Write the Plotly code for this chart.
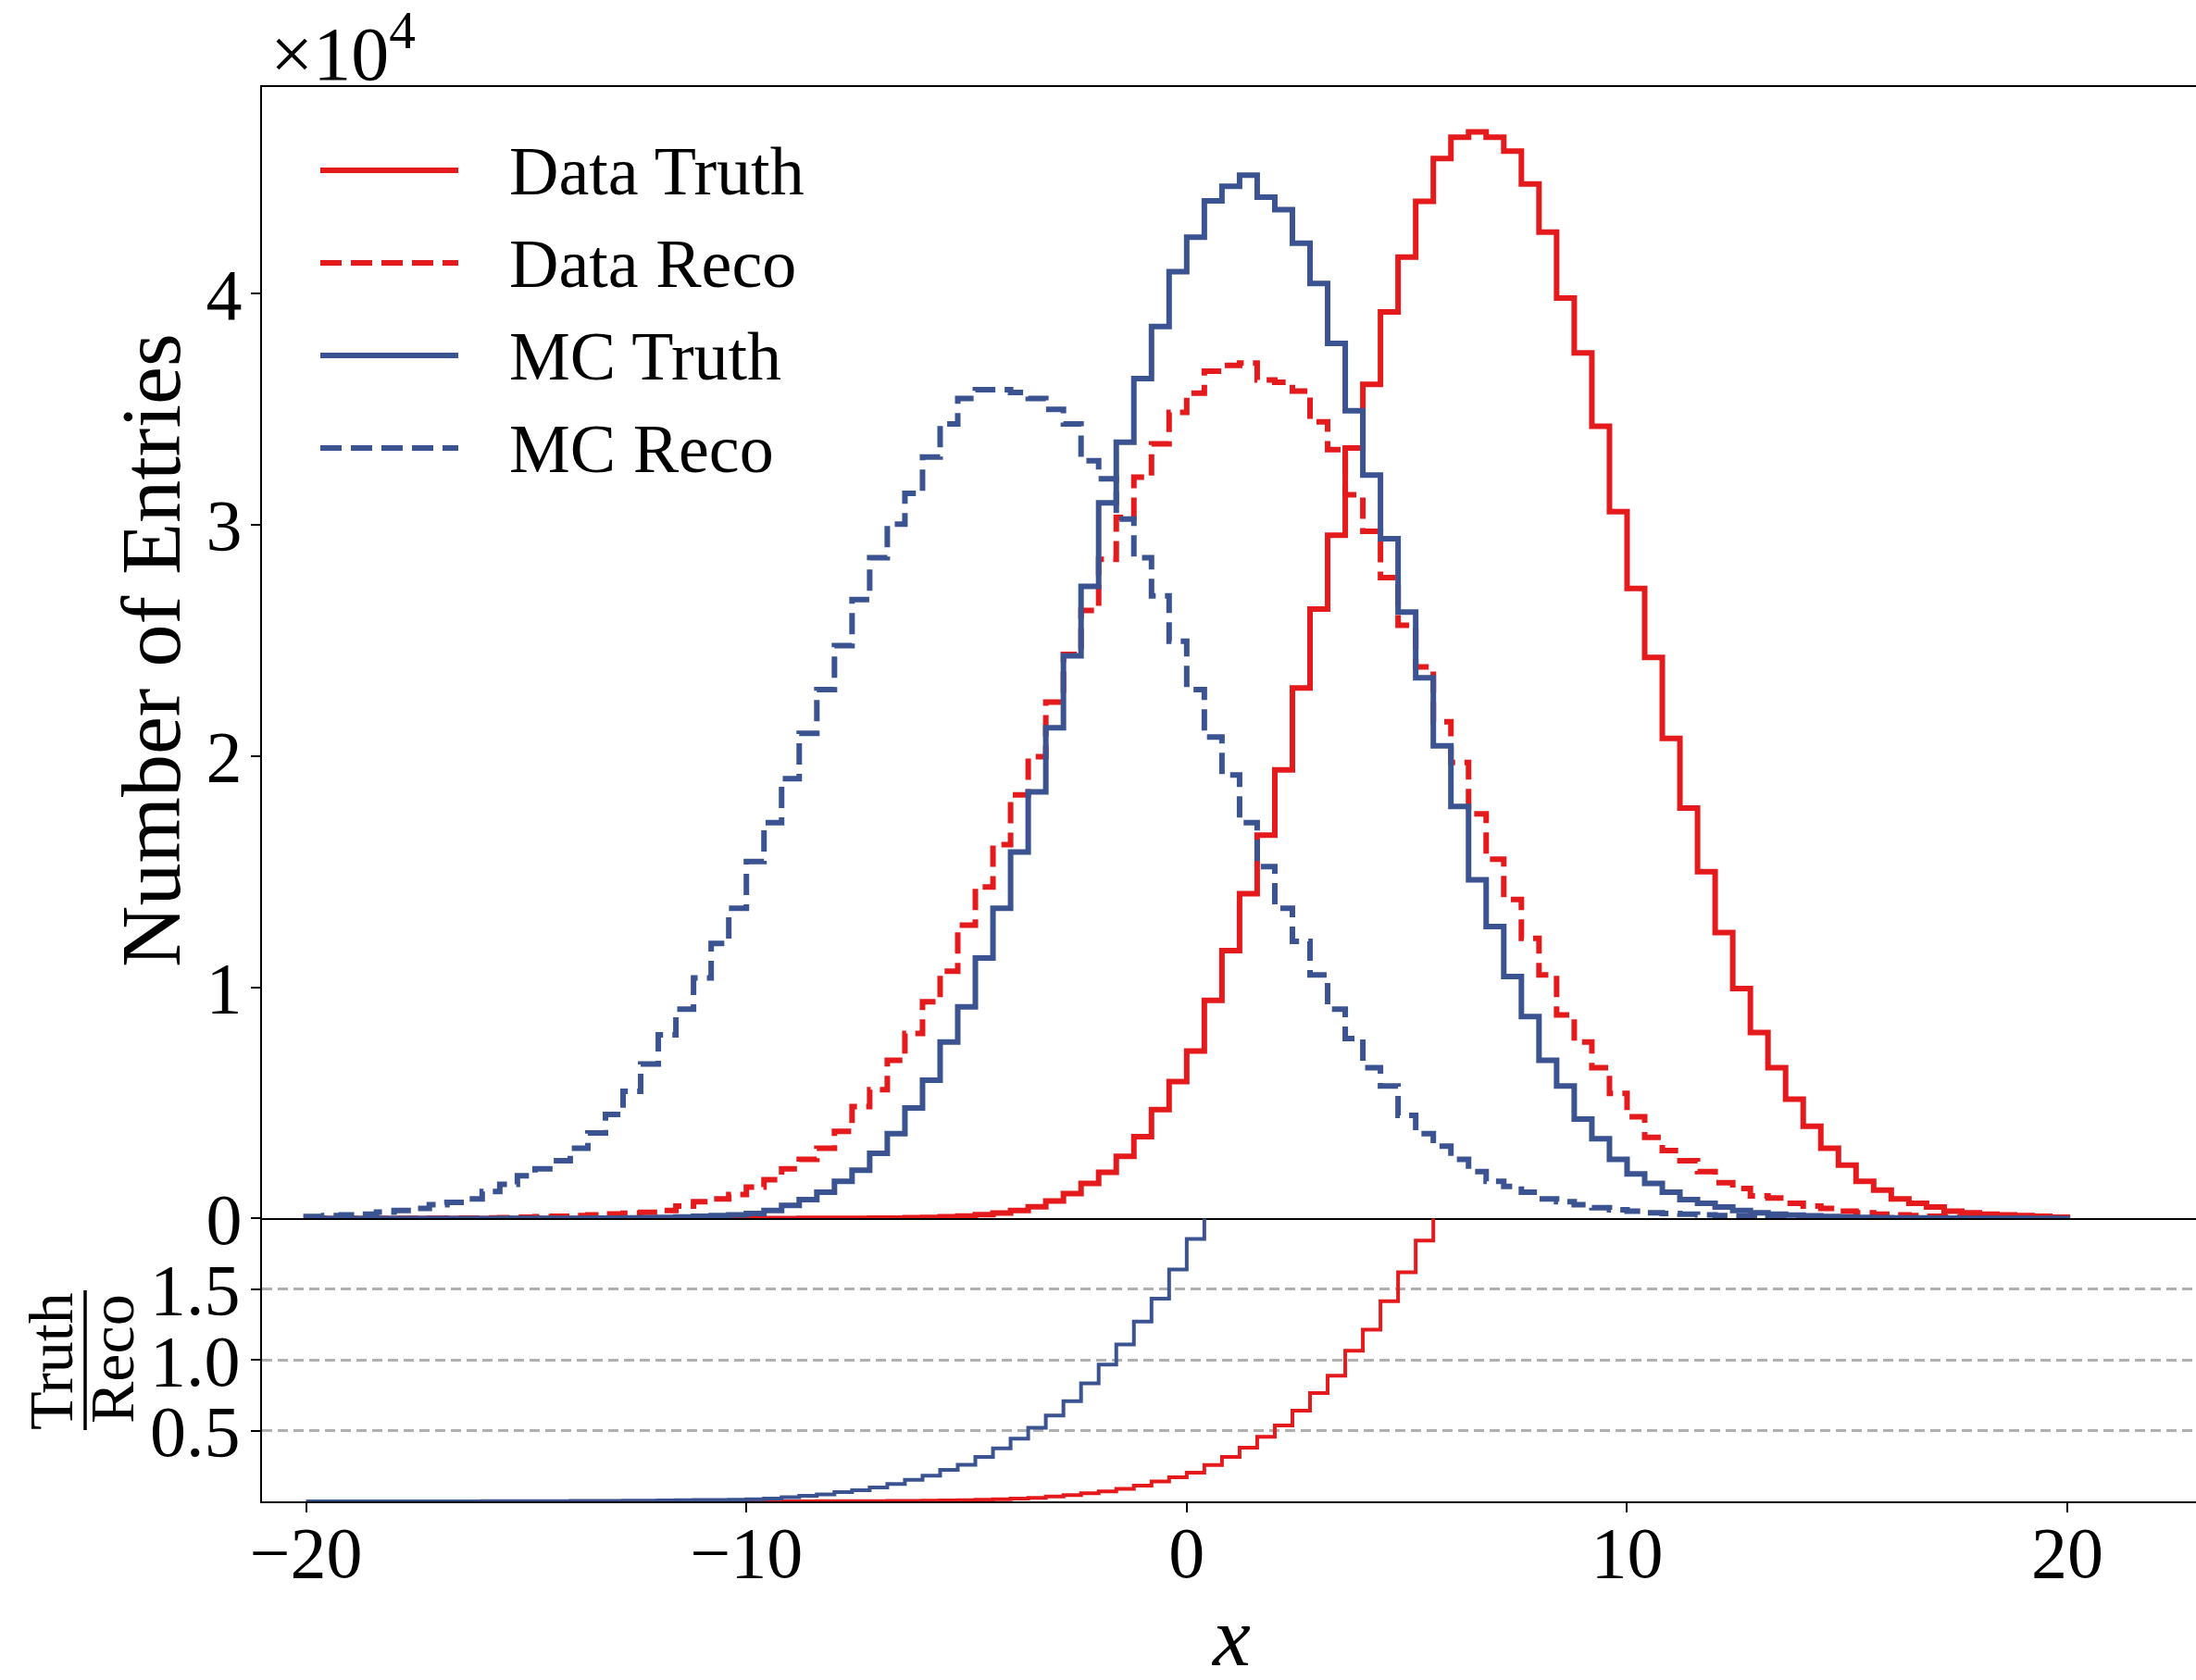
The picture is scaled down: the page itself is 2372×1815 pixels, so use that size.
import plotly.graph_objects as go

# ---------------- data ----------------
bin_lo, bin_hi, n_bins = -20.0, 20.0, 100

data_truth = [0, 0, 0, 0, 0, 0, 0, 0, 0, 0,
              0, 0, 0, 0, 0, 0, 0, 0, 0, 0,
              0, 0, 0, 0, 0, 0, 1, 1, 2, 3,
              5, 8, 13, 20, 32, 50, 75, 110, 165, 240,
              350, 506, 760, 1076, 1519, 1994, 2690, 3544, 4715, 5918,
              7247, 9430, 11582, 14051, 16582, 19399, 22943, 26361, 29557, 33323,
              36076, 39209, 41580, 44000, 45850, 46770, 47000, 46770, 46170, 44750,
              42660, 39810, 37440, 34270, 30570, 27250, 24270, 20760, 17750, 15000,
              12370, 9940, 8040, 6520, 5160, 3990, 3040, 2310, 1610, 1230,
              850, 660, 500, 320, 250, 190, 160, 130, 100, 60]

data_reco = [0, 0, 0, 0, 0, 0, 5, 10, 15, 20,
             30, 40, 55, 80, 100, 130, 160, 200, 230, 270,
             350, 540, 730, 850, 1040, 1360, 1680, 2150, 2560, 3040,
             3770, 4840, 5570, 6840, 8000, 9370, 10700, 12690, 14340, 16170,
             18320, 19970, 22340, 24400, 26300, 28510, 30320, 32060, 33510, 34870,
             35700, 36650, 36900, 37000, 36270, 36170, 35790, 34460, 33260, 31300,
             29720, 27720, 25660, 23860, 21490, 19720, 17500, 15540, 13800, 12120,
             10540, 8800, 7630, 6520, 5410, 4400, 3510, 2940, 2500, 2030,
             1550, 1300, 980, 890, 660, 540, 440, 320, 250, 190,
             160, 130, 100, 80, 60, 50, 30, 20, 15, 10]

mc_truth = [0, 0, 0, 0, 0, 0, 0, 0, 0, 0,
            1, 2, 3, 4, 6, 9, 13, 18, 25, 35,
            50, 70, 95, 125, 160, 220, 350, 570, 820, 1140,
            1610, 2090, 2820, 3670, 4780, 5980, 7630, 9150, 11270, 13420,
            15850, 18450, 21230, 24340, 27340, 30950, 33580, 36330, 38580, 40950,
            42440, 44020, 44650, 45130, 44180, 43640, 42180, 40440, 37850, 34940,
            32150, 29400, 26230, 23390, 20440, 17820, 14650, 12630, 10470, 8730,
            6840, 5730, 4300, 3450, 2560, 1930, 1520, 1140, 820, 660,
            500, 350, 250, 190, 150, 120, 90, 70, 50, 40,
            30, 22, 16, 11, 8, 5, 3, 2, 1, 1]

mc_reco = [90, 130, 160, 190, 280, 350, 440, 600, 700, 850,
           1170, 1480, 1850, 2150, 2500, 3040, 3700, 4500, 5500, 6680,
           7940, 9050, 10410, 11900, 13420, 15440, 17120, 19020, 20980, 22880,
           24780, 26770, 28580, 30030, 31360, 32940, 34370, 35470, 35850, 35850,
           35730, 35470, 35000, 34370, 32780, 31990, 30250, 28580, 26930, 24970,
           22880, 20820, 19180, 17120, 15220, 13420, 11990, 10540, 9050, 7780,
           6520, 5730, 4460, 3670, 3130, 2560, 2030, 1610, 1390, 1140,
           850, 730, 600, 470, 380, 320, 250, 220, 190, 160,
           130, 110, 90, 70, 55, 45, 35, 25, 20, 15,
           8, 6, 5, 3, 2, 1, 1, 0, 0, 0]

series_names = ["Data Truth", "Data Reco", "MC Truth", "MC Reco"]

x_tick_vals = [-20, -10, 0, 10, 20]
x_tick_text = ["\u221220", "\u221210", "0", "10", "20"]
y_tick_vals = [0, 10000, 20000, 30000, 40000]
y_tick_text = ["0", "1", "2", "3", "4"]
r_tick_vals = [0.5, 1.0, 1.5]
r_tick_text = ["0.5", "1.0", "1.5"]

# ---------------- styling ----------------
RED = "#e41a1c"
BLUE = "#3b5391"
FONT = "Liberation Serif"
W, H = 2372, 1815
ML, MR, MT, MB = 283, 0, 94, 193
PW, PH = W - ML - MR, H - MT - MB
X_RANGE = [-21.0, 22.92]
Y_RANGE = [0, 48940]
R_RANGE = [0, 2.0]
MAIN_W = 6
RATIO_W = 4.0
DASH = "23px,10px"


def px(xpix):
    return (xpix - ML) / PW


def py(ypix):
    return (H - MB - ypix) / PH


width = (bin_hi - bin_lo) / n_bins
edges = [bin_lo + i * width for i in range(n_bins + 1)]


def hist_step(values):
    xs = [edges[0]] + edges + [edges[-1]]
    ys = [0] + list(values) + [values[-1], 0]
    return xs, ys


def ratio_step(num, den):
    r = [(n / d) if d > 0 else None for n, d in zip(num, den)]
    return edges, r + [r[-1]]


fig = go.Figure()

styles = [(data_truth, RED, "solid"), (data_reco, RED, DASH),
          (mc_truth, BLUE, "solid"), (mc_reco, BLUE, DASH)]
for vals, col, dash in styles:
    xs, ys = hist_step(vals)
    fig.add_trace(go.Scatter(x=xs, y=ys, mode="lines", line_shape="hv",
                             line=dict(color=col, width=MAIN_W, dash=dash),
                             xaxis="x", yaxis="y", showlegend=False,
                             hoverinfo="skip"))

for num, den, col in [(data_truth, data_reco, RED), (mc_truth, mc_reco, BLUE)]:
    xs, ys = ratio_step(num, den)
    fig.add_trace(go.Scatter(x=xs, y=ys, mode="lines", line_shape="hv",
                             line=dict(color=col, width=RATIO_W),
                             xaxis="x2", yaxis="y2", showlegend=False,
                             connectgaps=False, hoverinfo="skip"))

tickfont = dict(family=FONT, size=78, color="black")
axis_common = dict(showline=True, linecolor="black", linewidth=2,
                   zeroline=False, ticks="outside", ticklen=10, tickwidth=2,
                   tickcolor="black", tickfont=tickfont)

fig.update_layout(
    width=W, height=H,
    margin=dict(l=ML, r=MR, t=MT, b=MB, pad=0),
    paper_bgcolor="white", plot_bgcolor="white",
    font=dict(family=FONT, color="black"),
    showlegend=False,
    xaxis=dict(domain=[0, 1], anchor="y", range=X_RANGE, showgrid=False,
               showline=True, linecolor="black", linewidth=2, mirror=True,
               zeroline=False, ticks="", showticklabels=False),
    yaxis=dict(domain=[0.2, 1.0], anchor="x", range=Y_RANGE, showgrid=False,
               tickvals=y_tick_vals, ticktext=y_tick_text,
               ticklabelstandoff=-6, **axis_common),
    xaxis2=dict(domain=[0, 1], anchor="y2", range=X_RANGE, matches="x",
                showgrid=False, tickvals=x_tick_vals, ticktext=x_tick_text,
                ticklabelstandoff=-24, **axis_common),
    yaxis2=dict(domain=[0, 0.2], anchor="x2", range=R_RANGE,
                tickvals=r_tick_vals, ticktext=r_tick_text,
                showgrid=True, gridcolor="#b0b0b0", gridwidth=2.5,
                griddash="11px,6px", ticklabelstandoff=-4, **axis_common),
)

shapes = []
annotations = []

# legend (drawn by hand so the line samples match the original length)
legend_y = [184, 284, 384, 484]
for name, (vals, col, dash), ly in zip(series_names, styles, legend_y):
    shapes.append(dict(type="line", xref="paper", yref="paper",
                       x0=px(346), x1=px(495), y0=py(ly), y1=py(ly),
                       line=dict(color=col, width=MAIN_W, dash=dash)))
    annotations.append(dict(text=name, xref="paper", yref="paper",
                            x=px(548), y=py(ly + 1), xanchor="left",
                            yanchor="middle", showarrow=False,
                            font=dict(family=FONT, size=74, color="black")))

# axis titles
annotations.append(dict(text="Number of Entries", xref="paper", yref="paper",
                        x=px(163), y=py(703), xanchor="center", yanchor="middle",
                        textangle=-90, showarrow=False,
                        font=dict(family=FONT, size=92, color="black")))
annotations.append(dict(text="<i>x</i>", xref="paper", yref="paper",
                        x=px(1329), y=py(1768), xanchor="center", yanchor="middle",
                        showarrow=False,
                        font=dict(family=FONT, size=92, color="black")))
annotations.append(dict(text="\u00d710<sup>4</sup>", xref="paper", yref="paper",
                        x=px(290), y=py(106), xanchor="left", yanchor="bottom",
                        showarrow=False,
                        font=dict(family=FONT, size=82, color="black")))
# ratio title: Truth over Reco, rotated
annotations.append(dict(text="Truth", xref="paper", yref="paper",
                        x=px(55), y=py(1471), xanchor="center", yanchor="middle",
                        textangle=-90, showarrow=False,
                        font=dict(family=FONT, size=68, color="black")))
annotations.append(dict(text="Reco", xref="paper", yref="paper",
                        x=px(121), y=py(1468), xanchor="center", yanchor="middle",
                        textangle=-90, showarrow=False,
                        font=dict(family=FONT, size=68, color="black")))
shapes.append(dict(type="line", xref="paper", yref="paper",
                   x0=px(92), x1=px(92), y0=py(1394), y1=py(1545),
                   line=dict(color="black", width=3.5)))

fig.update_layout(shapes=shapes, annotations=annotations)

fig.write_html("out.html")
